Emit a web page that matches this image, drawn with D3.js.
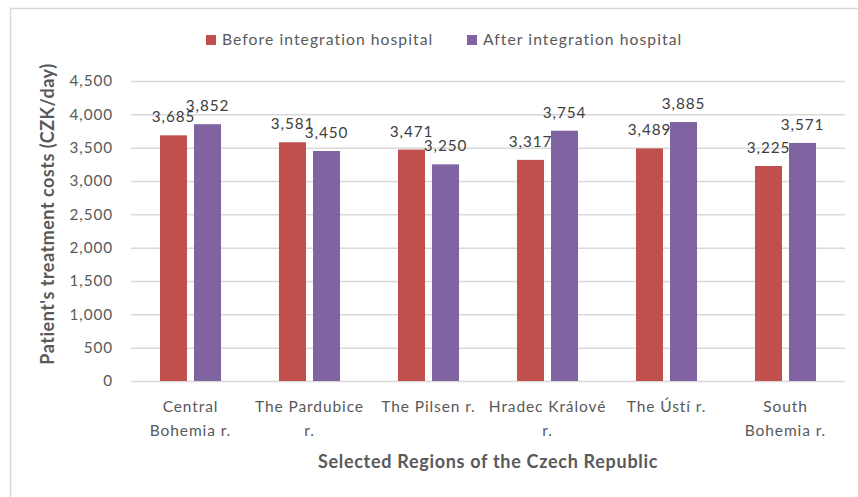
<!DOCTYPE html>
<html><head><meta charset="utf-8">
<script src="https://cdn.jsdelivr.net/npm/d3@7"></script>
<style>body{margin:0;background:#fff;} text{font-family:Lato,"Open Sans",sans-serif;}</style>
</head><body>
<svg id="c" width="858" height="497"></svg>
<script>
const categories = [["Central","Bohemia r."],["The Pardubice","r."],["The Pilsen r."],["Hradec Králové","r."],["The Ústí r."],["South","Bohemia r."]];
const seriesNames = ["Before integration hospital","After integration hospital"];
const before = [3685,3581,3471,3317,3489,3225];
const after = [3852,3450,3250,3754,3885,3571];
const yTicks = [0,500,1000,1500,2000,2500,3000,3500,4000,4500];
const colors = ["#C0504D","#8064A2"];
const textColor = "#595959";

(function(){
const svg = d3.select("#c");
svg.append("rect").attr("x",10.5).attr("y",8.5).attr("width",900).attr("height",600)
  .attr("fill","#fff").attr("stroke","#D9D9D9").attr("stroke-width",1.5);

const pL=131, pR=845, pT=81, pB=381;
const y = d3.scaleLinear().domain([0,4500]).range([pB,pT]);
const x0 = d3.scaleBand().domain(d3.range(categories.length)).range([pL,pR]).paddingInner(0.487).paddingOuter(0.2435);
const x1 = d3.scaleBand().domain([0,1]).range([0,x0.bandwidth()]).paddingInner(0.206);

const fmt = d3.format(",");
const yAxis = d3.axisLeft(y).tickValues(yTicks).tickFormat(fmt).tickSize(-(pR-pL)).tickPadding(18);
const ga = svg.append("g").attr("transform",`translate(${pL},0)`).call(yAxis);
ga.select(".domain").remove();
ga.selectAll(".tick line").attr("stroke","#D9D9D9").attr("stroke-width",1.5);
ga.selectAll(".tick text").attr("fill",textColor).attr("font-size",15.3).attr("letter-spacing",0.9);

const data = categories.map((c,i)=>({i, vals:[before[i],after[i]]}));
const g = svg.append("g");
const grp = g.selectAll("g.cat").data(data).join("g").attr("transform",d=>`translate(${x0(d.i)},0)`);
grp.selectAll("rect").data(d=>d.vals.map((v,k)=>({v,k}))).join("rect")
  .attr("x",d=>x1(d.k)).attr("width",x1.bandwidth())
  .attr("y",d=>y(d.v)).attr("height",d=>pB-y(d.v)).attr("fill",d=>colors[d.k]);
grp.selectAll("text.lbl").data(d=>d.vals.map((v,k)=>({v,k}))).join("text").attr("class","lbl")
  .attr("x",d=>x1(d.k)+x1.bandwidth()/2).attr("y",d=>y(d.v)-13)
  .attr("text-anchor","middle").attr("fill","#404040").attr("font-size",15.3).attr("letter-spacing",0.9)
  .text(d=>fmt(d.v));

const xl = svg.append("g");
categories.forEach((lines,i)=>{
  const cx = x0(i)+x0.bandwidth()/2;
  lines.forEach((t,j)=>{
    xl.append("text").attr("x",cx).attr("y",412+j*24).attr("text-anchor","middle")
      .attr("fill",textColor).attr("font-size",15.5).attr("letter-spacing",0.9).text(t);
  });
});

svg.append("text").attr("x",(pL+pR)/2).attr("y",468).attr("text-anchor","middle")
  .attr("font-weight","bold").attr("font-size",18).attr("letter-spacing",0.7).attr("fill",textColor).text("Selected Regions of the Czech Republic");
svg.append("text").attr("transform",`translate(54,214) rotate(-90)`).attr("text-anchor","middle")
  .attr("font-weight","bold").attr("font-size",18).attr("letter-spacing",0.5).attr("fill",textColor).text("Patient's treatment costs (CZK/day)");

const legX = [206,467];
seriesNames.forEach((n,k)=>{
  svg.append("rect").attr("x",legX[k]).attr("y",35).attr("width",10).attr("height",10).attr("fill",colors[k]);
  svg.append("text").attr("x",legX[k]+16).attr("y",45).attr("fill",textColor).attr("font-size",15.7).attr("letter-spacing",1.05).text(n);
});
})();
</script>
</body></html>
